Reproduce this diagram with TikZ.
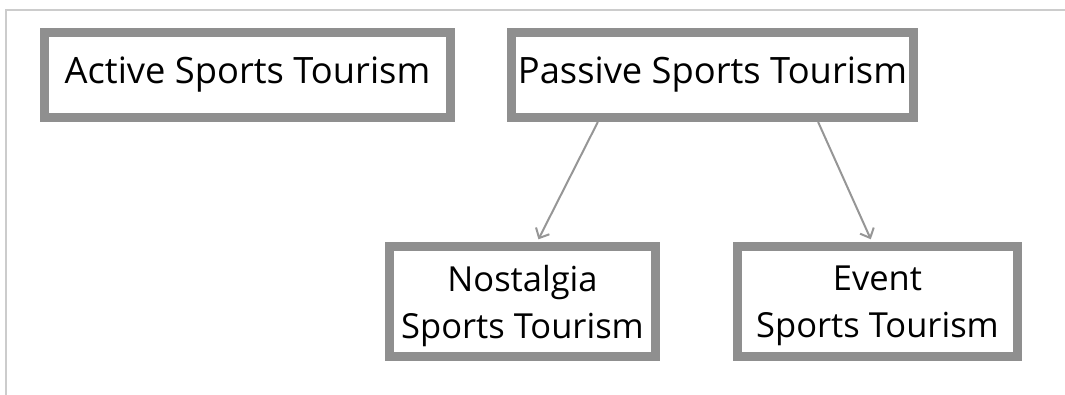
\documentclass[tikz,border=0pt]{standalone}
\usepackage{fontspec}
\setmainfont{Open Sans}
\usetikzlibrary{arrows.meta,calc}
\definecolor{boxgray}{RGB}{143,143,143}
\definecolor{arrgray}{RGB}{150,150,150}
\definecolor{framegray}{RGB}{204,204,204}
\tikzset{
  box/.style={draw=boxgray, line width=9pt, fill=white, rectangle, align=center,
    inner sep=0pt},
  topbox/.style={box, minimum height=85pt, font=\fontsize{36.3}{46}\selectfont},
  lowbox/.style={box, minimum height=110pt, text depth=0pt, font=\fontsize{34.5}{47}\selectfont},
  conn/.style={draw=arrgray, line width=2pt, -{Straight Barb[length=8pt,width=15pt]}, shorten >=3pt}
}
\begin{document}
\begin{tikzpicture}[x=1pt,y=-1pt]
\useasboundingbox (0,0) rectangle (1065,395);
\coordinate (fa) at (6,395);
\coordinate (fb) at (6,10);
\coordinate (fc) at (1065,10);
\draw[framegray, line width=2pt] (fa) -- (fb) -- (fc);
\node[topbox, minimum width=406pt] (act) at (247.5,75) {Active Sports Tourism};
\node[topbox, minimum width=402pt] (pas) at (712.5,75) {Passive Sports Tourism};
\node[lowbox, minimum width=266pt] (nos) at (522.5,301.5) {Nostalgia\\Sports Tourism};
\node[lowbox, minimum width=280pt] (evt) at (877.5,301.5) {Event\\Sports Tourism};
\draw[conn] ($(pas.south west)!0.221!(pas.south east)$) -- ($(nos.north west)!0.553!(nos.north east)$);
\draw[conn] ($(pas.south west)!0.757!(pas.south east)$) -- ($(evt.north west)!0.481!(evt.north east)$);
\end{tikzpicture}
\end{document}
